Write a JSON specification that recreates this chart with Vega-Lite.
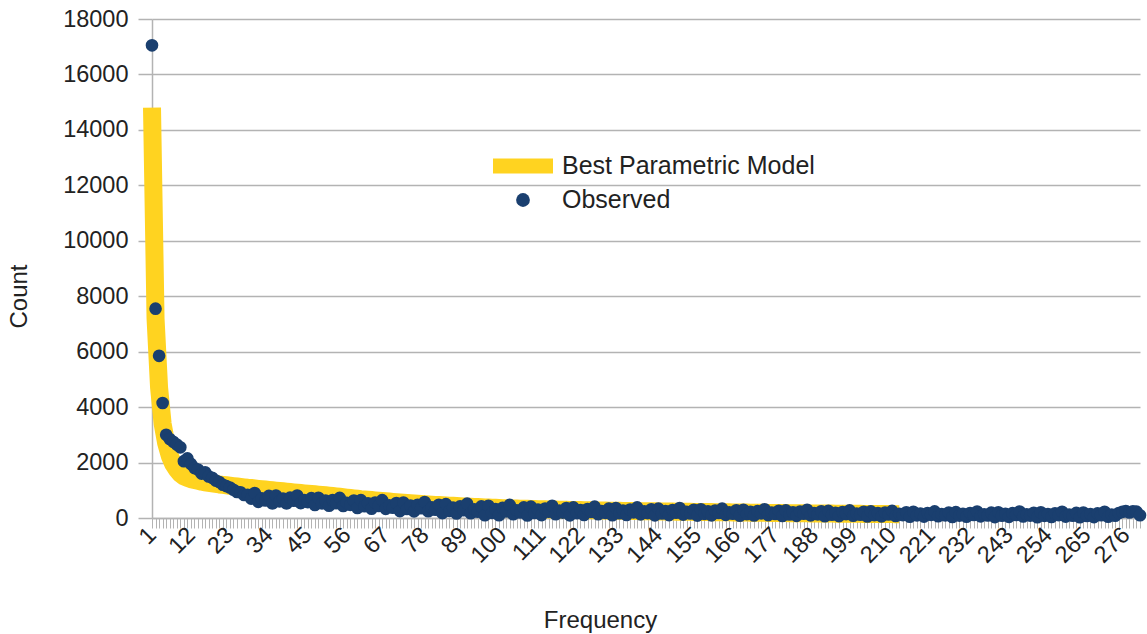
{
"$schema":"https://vega.github.io/schema/vega-lite/v6.json",
"width":988,"height":499,
"autosize":{"type":"none"},
"padding":{"left":152,"top":19,"right":7,"bottom":116},
"background":"white",
"config":{"view":{"stroke":null},"font":"Liberation Sans"},
"datasets":{
"model":[{"f":1,"count":14800},{"f":2,"count":7200},{"f":3,"count":4700},{"f":4,"count":3400},{"f":5,"count":2700},{"f":6,"count":2250},{"f":7,"count":1950},{"f":8,"count":1750},{"f":9,"count":1600},{"f":10,"count":1500},{"f":11,"count":1450},{"f":12,"count":1400},{"f":13,"count":1370},{"f":14,"count":1340},{"f":15,"count":1310},{"f":16,"count":1290},{"f":17,"count":1270},{"f":18,"count":1250},{"f":19,"count":1230},{"f":20,"count":1210},{"f":21,"count":1195},{"f":22,"count":1180},{"f":23,"count":1165},{"f":24,"count":1150},{"f":25,"count":1135},{"f":26,"count":1120},{"f":27,"count":1105},{"f":28,"count":1090},{"f":29,"count":1080},{"f":30,"count":1065},{"f":31,"count":1052},{"f":32,"count":1040},{"f":33,"count":1027},{"f":34,"count":1014},{"f":35,"count":1002},{"f":36,"count":989},{"f":37,"count":976},{"f":38,"count":963},{"f":39,"count":951},{"f":40,"count":938},{"f":41,"count":925},{"f":42,"count":913},{"f":43,"count":900},{"f":44,"count":889},{"f":45,"count":877},{"f":46,"count":866},{"f":47,"count":854},{"f":48,"count":843},{"f":49,"count":831},{"f":50,"count":820},{"f":51,"count":806},{"f":52,"count":792},{"f":53,"count":778},{"f":54,"count":764},{"f":55,"count":750},{"f":56,"count":736},{"f":57,"count":722},{"f":58,"count":708},{"f":59,"count":694},{"f":60,"count":680},{"f":61,"count":669},{"f":62,"count":658},{"f":63,"count":647},{"f":64,"count":636},{"f":65,"count":625},{"f":66,"count":614},{"f":67,"count":603},{"f":68,"count":592},{"f":69,"count":581},{"f":70,"count":570},{"f":71,"count":561},{"f":72,"count":552},{"f":73,"count":543},{"f":74,"count":534},{"f":75,"count":525},{"f":76,"count":516},{"f":77,"count":507},{"f":78,"count":498},{"f":79,"count":489},{"f":80,"count":480},{"f":81,"count":473},{"f":82,"count":466},{"f":83,"count":459},{"f":84,"count":452},{"f":85,"count":445},{"f":86,"count":438},{"f":87,"count":431},{"f":88,"count":424},{"f":89,"count":417},{"f":90,"count":410},{"f":91,"count":405},{"f":92,"count":399},{"f":93,"count":394},{"f":94,"count":388},{"f":95,"count":383},{"f":96,"count":377},{"f":97,"count":372},{"f":98,"count":366},{"f":99,"count":361},{"f":100,"count":355},{"f":101,"count":352},{"f":102,"count":348},{"f":103,"count":345},{"f":104,"count":341},{"f":105,"count":338},{"f":106,"count":334},{"f":107,"count":331},{"f":108,"count":327},{"f":109,"count":324},{"f":110,"count":320},{"f":111,"count":317},{"f":112,"count":314},{"f":113,"count":311},{"f":114,"count":308},{"f":115,"count":305},{"f":116,"count":302},{"f":117,"count":299},{"f":118,"count":296},{"f":119,"count":293},{"f":120,"count":290},{"f":121,"count":288},{"f":122,"count":285},{"f":123,"count":283},{"f":124,"count":280},{"f":125,"count":278},{"f":126,"count":275},{"f":127,"count":273},{"f":128,"count":270},{"f":129,"count":268},{"f":130,"count":265},{"f":131,"count":263},{"f":132,"count":261},{"f":133,"count":259},{"f":134,"count":257},{"f":135,"count":255},{"f":136,"count":253},{"f":137,"count":251},{"f":138,"count":249},{"f":139,"count":247},{"f":140,"count":245},{"f":141,"count":243},{"f":142,"count":241},{"f":143,"count":240},{"f":144,"count":238},{"f":145,"count":236},{"f":146,"count":234},{"f":147,"count":232},{"f":148,"count":231},{"f":149,"count":229},{"f":150,"count":227},{"f":151,"count":225},{"f":152,"count":224},{"f":153,"count":222},{"f":154,"count":220},{"f":155,"count":219},{"f":156,"count":217},{"f":157,"count":215},{"f":158,"count":213},{"f":159,"count":212},{"f":160,"count":210},{"f":161,"count":208},{"f":162,"count":206},{"f":163,"count":205},{"f":164,"count":203},{"f":165,"count":201},{"f":166,"count":199},{"f":167,"count":197},{"f":168,"count":196},{"f":169,"count":194},{"f":170,"count":192},{"f":171,"count":190},{"f":172,"count":189},{"f":173,"count":187},{"f":174,"count":186},{"f":175,"count":184},{"f":176,"count":182},{"f":177,"count":181},{"f":178,"count":179},{"f":179,"count":178},{"f":180,"count":176},{"f":181,"count":175},{"f":182,"count":173},{"f":183,"count":172},{"f":184,"count":170},{"f":185,"count":169},{"f":186,"count":168},{"f":187,"count":166},{"f":188,"count":165},{"f":189,"count":163},{"f":190,"count":162},{"f":191,"count":161},{"f":192,"count":160},{"f":193,"count":158},{"f":194,"count":157},{"f":195,"count":156},{"f":196,"count":155},{"f":197,"count":154},{"f":198,"count":152},{"f":199,"count":151},{"f":200,"count":150},{"f":201,"count":149},{"f":202,"count":148},{"f":203,"count":147},{"f":204,"count":146},{"f":205,"count":145},{"f":206,"count":144},{"f":207,"count":143},{"f":208,"count":142},{"f":209,"count":141},{"f":210,"count":140},{"f":211,"count":139},{"f":212,"count":138}],
"observed":[{"f":1,"count":17050},{"f":2,"count":7550},{"f":3,"count":5850},{"f":4,"count":4150},{"f":5,"count":3000},{"f":6,"count":2850},{"f":7,"count":2750},{"f":8,"count":2650},{"f":9,"count":2550},{"f":10,"count":2050},{"f":11,"count":2150},{"f":12,"count":1950},{"f":13,"count":1800},{"f":14,"count":1750},{"f":15,"count":1600},{"f":16,"count":1650},{"f":17,"count":1500},{"f":18,"count":1450},{"f":19,"count":1350},{"f":20,"count":1300},{"f":21,"count":1200},{"f":22,"count":1150},{"f":23,"count":1100},{"f":24,"count":1020},{"f":25,"count":940},{"f":26,"count":930},{"f":27,"count":830},{"f":28,"count":840},{"f":29,"count":700},{"f":30,"count":900},{"f":31,"count":582},{"f":32,"count":709},{"f":33,"count":631},{"f":34,"count":798},{"f":35,"count":524},{"f":36,"count":813},{"f":37,"count":600},{"f":38,"count":705},{"f":39,"count":524},{"f":40,"count":733},{"f":41,"count":622},{"f":42,"count":810},{"f":43,"count":536},{"f":44,"count":645},{"f":45,"count":574},{"f":46,"count":717},{"f":47,"count":468},{"f":48,"count":729},{"f":49,"count":527},{"f":50,"count":624},{"f":51,"count":444},{"f":52,"count":648},{"f":53,"count":533},{"f":54,"count":726},{"f":55,"count":436},{"f":56,"count":549},{"f":57,"count":473},{"f":58,"count":630},{"f":59,"count":359},{"f":60,"count":644},{"f":61,"count":426},{"f":62,"count":531},{"f":63,"count":337},{"f":64,"count":558},{"f":65,"count":435},{"f":66,"count":644},{"f":67,"count":330},{"f":68,"count":454},{"f":69,"count":371},{"f":70,"count":542},{"f":71,"count":250},{"f":72,"count":560},{"f":73,"count":328},{"f":74,"count":444},{"f":75,"count":240},{"f":76,"count":479},{"f":77,"count":351},{"f":78,"count":577},{"f":79,"count":246},{"f":80,"count":381},{"f":81,"count":296},{"f":82,"count":478},{"f":83,"count":175},{"f":84,"count":501},{"f":85,"count":257},{"f":86,"count":379},{"f":87,"count":164},{"f":88,"count":417},{"f":89,"count":282},{"f":90,"count":519},{"f":91,"count":173},{"f":92,"count":313},{"f":93,"count":225},{"f":94,"count":417},{"f":95,"count":98},{"f":96,"count":440},{"f":97,"count":185},{"f":98,"count":318},{"f":99,"count":102},{"f":100,"count":364},{"f":101,"count":233},{"f":102,"count":472},{"f":103,"count":136},{"f":104,"count":278},{"f":105,"count":198},{"f":106,"count":383},{"f":107,"count":89},{"f":108,"count":410},{"f":109,"count":181},{"f":110,"count":302},{"f":111,"count":105},{"f":112,"count":343},{"f":113,"count":224},{"f":114,"count":441},{"f":115,"count":136},{"f":116,"count":265},{"f":117,"count":193},{"f":118,"count":360},{"f":119,"count":95},{"f":120,"count":384},{"f":121,"count":177},{"f":122,"count":286},{"f":123,"count":109},{"f":124,"count":323},{"f":125,"count":215},{"f":126,"count":410},{"f":127,"count":137},{"f":128,"count":252},{"f":129,"count":187},{"f":130,"count":337},{"f":131,"count":100},{"f":132,"count":360},{"f":133,"count":172},{"f":134,"count":270},{"f":135,"count":110},{"f":136,"count":304},{"f":137,"count":205},{"f":138,"count":384},{"f":139,"count":132},{"f":140,"count":238},{"f":141,"count":176},{"f":142,"count":317},{"f":143,"count":94},{"f":144,"count":338},{"f":145,"count":162},{"f":146,"count":253},{"f":147,"count":103},{"f":148,"count":286},{"f":149,"count":192},{"f":150,"count":360},{"f":151,"count":123},{"f":152,"count":223},{"f":153,"count":165},{"f":154,"count":297},{"f":155,"count":88},{"f":156,"count":316},{"f":157,"count":151},{"f":158,"count":237},{"f":159,"count":96},{"f":160,"count":267},{"f":161,"count":179},{"f":162,"count":336},{"f":163,"count":115},{"f":164,"count":208},{"f":165,"count":154},{"f":166,"count":276},{"f":167,"count":82},{"f":168,"count":295},{"f":169,"count":141},{"f":170,"count":220},{"f":171,"count":89},{"f":172,"count":248},{"f":173,"count":166},{"f":174,"count":313},{"f":175,"count":105},{"f":176,"count":193},{"f":177,"count":143},{"f":178,"count":258},{"f":179,"count":73},{"f":180,"count":275},{"f":181,"count":129},{"f":182,"count":206},{"f":183,"count":78},{"f":184,"count":231},{"f":185,"count":154},{"f":186,"count":295},{"f":187,"count":95},{"f":188,"count":178},{"f":189,"count":130},{"f":190,"count":241},{"f":191,"count":63},{"f":192,"count":257},{"f":193,"count":117},{"f":194,"count":190},{"f":195,"count":69},{"f":196,"count":215},{"f":197,"count":141},{"f":198,"count":275},{"f":199,"count":84},{"f":200,"count":164},{"f":201,"count":118},{"f":202,"count":224},{"f":203,"count":53},{"f":204,"count":239},{"f":205,"count":105},{"f":206,"count":175},{"f":207,"count":59},{"f":208,"count":198},{"f":209,"count":127},{"f":210,"count":256},{"f":211,"count":73},{"f":212,"count":150},{"f":213,"count":105},{"f":214,"count":206},{"f":215,"count":44},{"f":216,"count":222},{"f":217,"count":94},{"f":218,"count":159},{"f":219,"count":49},{"f":220,"count":182},{"f":221,"count":115},{"f":222,"count":239},{"f":223,"count":64},{"f":224,"count":139},{"f":225,"count":96},{"f":226,"count":196},{"f":227,"count":38},{"f":228,"count":212},{"f":229,"count":87},{"f":230,"count":154},{"f":231,"count":44},{"f":232,"count":178},{"f":233,"count":111},{"f":234,"count":235},{"f":235,"count":60},{"f":236,"count":135},{"f":237,"count":92},{"f":238,"count":192},{"f":239,"count":34},{"f":240,"count":208},{"f":241,"count":83},{"f":242,"count":150},{"f":243,"count":40},{"f":244,"count":174},{"f":245,"count":107},{"f":246,"count":231},{"f":247,"count":56},{"f":248,"count":131},{"f":249,"count":88},{"f":250,"count":188},{"f":251,"count":30},{"f":252,"count":204},{"f":253,"count":79},{"f":254,"count":146},{"f":255,"count":36},{"f":256,"count":170},{"f":257,"count":103},{"f":258,"count":227},{"f":259,"count":52},{"f":260,"count":127},{"f":261,"count":84},{"f":262,"count":184},{"f":263,"count":26},{"f":264,"count":200},{"f":265,"count":75},{"f":266,"count":142},{"f":267,"count":32},{"f":268,"count":166},{"f":269,"count":99},{"f":270,"count":223},{"f":271,"count":48},{"f":272,"count":123},{"f":273,"count":80},{"f":274,"count":180},{"f":275,"count":220},{"f":276,"count":250},{"f":277,"count":200},{"f":278,"count":240},{"f":279,"count":230},{"f":280,"count":100}]
},
"encoding":{
"x":{"field":"f","type":"quantitative","title":"Frequency","scale":{"domain":[1,280],"nice":false,"zero":false},
"axis":{"values":[1,2,3,4,5,6,7,8,9,10,11,12,13,14,15,16,17,18,19,20,21,22,23,24,25,26,27,28,29,30,31,32,33,34,35,36,37,38,39,40,41,42,43,44,45,46,47,48,49,50,51,52,53,54,55,56,57,58,59,60,61,62,63,64,65,66,67,68,69,70,71,72,73,74,75,76,77,78,79,80,81,82,83,84,85,86,87,88,89,90,91,92,93,94,95,96,97,98,99,100,101,102,103,104,105,106,107,108,109,110,111,112,113,114,115,116,117,118,119,120,121,122,123,124,125,126,127,128,129,130,131,132,133,134,135,136,137,138,139,140,141,142,143,144,145,146,147,148,149,150,151,152,153,154,155,156,157,158,159,160,161,162,163,164,165,166,167,168,169,170,171,172,173,174,175,176,177,178,179,180,181,182,183,184,185,186,187,188,189,190,191,192,193,194,195,196,197,198,199,200,201,202,203,204,205,206,207,208,209,210,211,212,213,214,215,216,217,218,219,220,221,222,223,224,225,226,227,228,229,230,231,232,233,234,235,236,237,238,239,240,241,242,243,244,245,246,247,248,249,250,251,252,253,254,255,256,257,258,259,260,261,262,263,264,265,266,267,268,269,270,271,272,273,274,275,276,277,278,279,280],
"format":"d","labelExpr":"(datum.value - 1) % 11 === 0 ? datum.label : ''","labelAngle":-45,"labelAlign":"right","labelBaseline":"middle","labelFontSize":23.5,"labelColor":"#222222","labelPadding":3,"labelOverlap":false,"labelBound":false,"labelFlush":false,
"tickSize":10,"tickColor":"#b3b3b3","tickWidth":1,"domainColor":"#b3b3b3","domainWidth":1.5,"grid":false,
"titleFontSize":24,"titleFontWeight":"normal","titleColor":"#222222","titleX":448,"titleY":102,"titleBaseline":"middle","titleAlign":"center"}},
"y":{"field":"count","type":"quantitative","title":"Count","scale":{"domain":[0,18000],"nice":false},
"axis":{"values":[0,2000,4000,6000,8000,10000,12000,14000,16000,18000],"format":"d","labelFontSize":23.5,"labelColor":"#222222","labelPadding":10,
"tickSize":14,"tickColor":"#b3b3b3","tickWidth":1.5,"domainColor":"#b3b3b3","domainWidth":1.5,"gridColor":"#b3b3b3","gridWidth":1.5,
"titleFontSize":24,"titleFontWeight":"normal","titleColor":"#222222","titleX":-133,"titleY":277,"titleAngle":-90,"titleBaseline":"middle","titleAlign":"center"}}
},
"layer":[
{"data":{"name":"model"},"mark":{"type":"line","strokeWidth":18,"strokeCap":"butt","strokeJoin":"round"},
"encoding":{"color":{"datum":"Best Parametric Model","type":"nominal",
"scale":{"domain":["Best Parametric Model","Observed"],"range":["#FFD320","#1a3f6f"]},
"legend":{"orient":"none","legendX":356,"legendY":132,"title":null,"padding":0,"labelFontSize":25,"labelColor":"#222222","labelFont":"Liberation Sans","labelLimit":0,"symbolSize":900,"labelOffset":24,"rowPadding":6,
"encode":{"symbols":{"update":{
"shape":{"signal":"datum.value === 'Observed' ? 'circle' : 'M-2,-0.5H2V0.5H-2Z'"},
"size":{"signal":"datum.value === 'Observed' ? 190 : 900"},
"fill":{"signal":"datum.value === 'Observed' ? '#1a3f6f' : '#FFD320'"},
"stroke":{"value":"transparent"},"strokeWidth":{"value":0},"opacity":{"value":1},"fillOpacity":{"value":1}}}}}}}},
{"data":{"name":"observed"},"mark":{"type":"point","filled":true,"shape":"circle","size":160,"opacity":1},
"encoding":{"color":{"datum":"Observed","type":"nominal"}}}
]
}
